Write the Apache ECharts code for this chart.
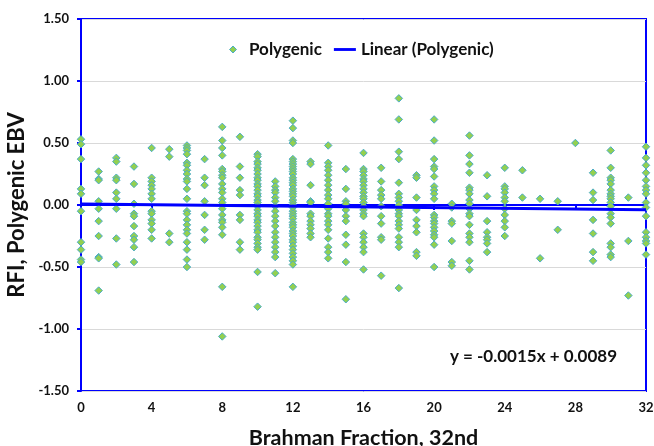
<!DOCTYPE html>
<html>
<head>
	<meta charset="utf-8">
	<title></title>
	<script src="https://cdn.jsdelivr.net/npm/echarts@6/dist/echarts.min.js"></script>
	<style>
		html,body{margin:0;padding:0;background:#fff;}
		#chart{width:654px;height:446px;}
	</style>
</head>
<body>
	<div id="chart"></div>
</body>
<script type="text/javascript">
	// Brahman fraction (32nds) and polygenic EBV values read per column
	let fractions=[0,1,2,3,4,5,6,7,8,9,10,11,12,13,14,15,16,17,18,19,20,21,22,23,24,25,26,27,28,29,30,31,32];
	let ebvByFraction=[
		[0.53,0.49,0.37,0.13,0.09,-0.05,-0.30,-0.36,-0.44,-0.46],
		[0.27,0.21,0.20,0.03,-0.03,-0.13,-0.25,-0.42,-0.43,-0.69],
		[0.38,0.35,0.22,0.20,0.10,0.05,-0.03,-0.27,-0.48],
		[0.31,0.17,0.01,-0.07,-0.09,-0.17,-0.25,-0.28,-0.34,-0.46],
		[0.46,0.22,0.19,0.16,0.13,0.09,0.05,-0.05,-0.07,-0.12,-0.15,-0.20,-0.27],
		[0.45,0.39,-0.23,-0.30],
		[0.48,0.46,0.44,0.41,0.34,0.32,0.28,0.25,0.21,0.19,0.13,0.05,-0.05,-0.07,-0.12,-0.16,-0.20,-0.23,-0.30,-0.36,-0.44,-0.50],
		[0.37,0.22,0.16,0.03,-0.08,-0.20,-0.28],
		[0.63,0.52,0.46,0.40,0.29,0.27,0.24,0.22,0.17,0.13,0.10,0.05,0.02,-0.03,-0.08,-0.12,-0.14,-0.18,-0.24,-0.66,-1.06],
		[0.55,0.31,0.22,0.12,0.08,-0.08,-0.12,-0.30,-0.36],
		[0.41,0.39,0.35,0.33,0.30,0.28,0.25,0.22,0.20,0.17,0.15,0.12,0.09,0.07,0.04,0.02,-0.01,-0.04,-0.07,-0.09,-0.12,-0.14,-0.17,-0.20,-0.22,-0.26,-0.28,-0.31,-0.34,-0.36,-0.54,-0.82],
		[0.19,0.15,0.12,0.10,0.06,0.03,-0.01,-0.05,-0.09,-0.13,-0.17,-0.22,-0.26,-0.30,-0.34,-0.38,-0.42,-0.55],
		[0.68,0.62,0.52,0.50,0.37,0.35,0.33,0.31,0.29,0.27,0.25,0.22,0.20,0.18,0.16,0.13,0.11,0.09,0.07,0.04,0.02,0.00,-0.02,-0.05,-0.07,-0.09,-0.11,-0.14,-0.16,-0.18,-0.21,-0.23,-0.25,-0.28,-0.30,-0.33,-0.36,-0.39,-0.42,-0.45,-0.48,-0.66],
		[0.35,0.33,0.16,0.03,0.02,-0.07,-0.09,-0.13,-0.16,-0.19,-0.23,-0.26],
		[0.48,0.34,0.31,0.28,0.24,0.20,0.16,0.12,0.08,0.05,0.01,-0.03,-0.07,-0.09,-0.13,-0.16,-0.20,-0.27,-0.34,-0.38,-0.43],
		[0.29,0.13,0.03,0.01,-0.04,-0.09,-0.13,-0.24,-0.32,-0.46,-0.76],
		[0.42,0.29,0.27,0.24,0.21,0.19,0.16,0.13,0.10,0.07,0.05,0.02,-0.01,-0.04,-0.07,-0.09,-0.23,-0.26,-0.30,-0.34,-0.38,-0.52],
		[0.30,0.19,0.12,0.08,0.05,-0.01,-0.09,-0.15,-0.26,-0.28,-0.57],
		[0.86,0.69,0.43,0.37,0.18,0.09,0.06,0.03,0.00,-0.04,-0.07,-0.09,-0.13,-0.16,-0.19,-0.26,-0.30,-0.34,-0.67],
		[0.24,0.22,0.06,-0.04,-0.12,-0.17,-0.22,-0.38,-0.41],
		[0.69,0.52,0.37,0.31,0.29,0.23,0.15,0.12,0.09,0.05,-0.08,-0.10,-0.13,-0.15,-0.18,-0.21,-0.24,-0.26,-0.32,-0.50],
		[0.01,-0.02,-0.13,-0.15,-0.29,-0.46,-0.49],
		[0.56,0.40,0.33,0.26,0.14,0.12,0.09,0.04,0.01,-0.03,-0.07,-0.09,-0.16,-0.23,-0.26,-0.30,-0.45,-0.52],
		[0.24,0.07,-0.13,-0.22,-0.26,-0.28,-0.31,-0.38],
		[0.30,0.15,0.13,0.10,0.06,0.03,-0.03,-0.08,-0.13,-0.18,-0.25],
		[0.28,0.06],
		[0.05,-0.43],
		[0.03,-0.20],
		[0.50],
		[0.26,0.10,0.04,-0.12,-0.23,-0.38,-0.45],
		[0.44,0.30,0.22,0.20,0.17,0.12,0.09,0.07,0.05,0.02,-0.01,-0.07,-0.10,-0.15,-0.31,-0.34,-0.40,-0.42],
		[0.06,-0.29,-0.73],
		[0.47,0.38,0.32,0.26,0.20,0.15,0.12,0.09,0.02,-0.02,-0.09,-0.22,-0.26,-0.29,-0.31,-0.40]
	];
	// trend line from the printed equation
	let slope=-0.0015;
	let intercept=0.0089;
	let trendX=[0,32];

	let points=[];
	for(let i in fractions){
		for(let v of ebvByFraction[i]){
			points.push([fractions[i],v]);
		}
	}
	let trend=trendX.map(x=>[x,slope*x+intercept]);

	let font='Lato';
	let blue='#0000ff';
	var myChart=echarts.init(document.getElementById('chart'));
	let option={
		animation:false,
		textStyle:{fontFamily:font},
		grid:{
			left:81,right:8,top:19,bottom:55,
			outerBoundsMode:'none',
			containLabel:false,
			show:true,
			borderColor:blue,
			borderWidth:2
		},
		legend:{
			top:36,
			left:224,
			itemGap:12,
			textStyle:{fontFamily:font,fontWeight:'bold',fontSize:17,color:'#111'},
			data:[
				{name:'Polygenic',icon:'path://M5 0L10 5L5 10L0 5Z',itemStyle:{color:'#92d050',borderColor:'#4bacc6',borderWidth:1}},
				{name:'Linear (Polygenic)',icon:'path://M0 0H100V13H0Z',itemStyle:{color:blue,borderWidth:0}}
			],
			itemWidth:22,
			itemHeight:7
		},
		xAxis:{
			type:'value',
			min:0,max:32,interval:4,
			name:'Brahman Fraction, 32nd',
			nameLocation:'middle',
			nameGap:36,
			nameTextStyle:{fontFamily:font,fontWeight:'bold',fontSize:21.5,color:'#111'},
			axisLine:{lineStyle:{color:blue,width:2}},
			axisTick:{show:true,length:5,lineStyle:{color:blue,width:2}},
			axisLabel:{fontFamily:font,fontWeight:'bold',fontSize:13,color:'#111',margin:10},
			splitLine:{show:false}
		},
		yAxis:{
			type:'value',
			min:-1.5,max:1.5,interval:0.5,
			name:'RFI, Polygenic EBV',
			nameLocation:'middle',
			nameGap:44,
			nameTextStyle:{fontFamily:font,fontWeight:'bold',fontSize:22,color:'#111'},
			axisLine:{show:true,lineStyle:{color:blue,width:2}},
			axisTick:{show:true,length:4,lineStyle:{color:blue,width:2}},
			axisLabel:{fontFamily:font,fontWeight:'bold',fontSize:13,color:'#111',margin:12,formatter:v=>v.toFixed(2)},
			splitLine:{show:true,lineStyle:{color:'#d9d9d9',width:1}}
		},
		graphic:[{
			type:'text',
			right:37,
			top:348,
			style:{text:'y = -0.0015x + 0.0089',font:'bold 17px Lato',fill:'#111'}
		}],
		series:[
			{
				name:'Polygenic',
				type:'scatter',
				symbol:'diamond',
				symbolSize:7.5,
				itemStyle:{color:'#92d050',borderColor:'#4bacc6',borderWidth:1,opacity:1},
				data:points,
				z:2
			},
			{
				name:'Linear (Polygenic)',
				type:'line',
				symbol:'none',
				lineStyle:{color:blue,width:3},
				itemStyle:{color:blue},
				data:trend,
				z:3
			}
		]
	};
	myChart.setOption(option);

	window.addEventListener('resize',()=>{
		myChart.resize();
	});
</script>
</html>
